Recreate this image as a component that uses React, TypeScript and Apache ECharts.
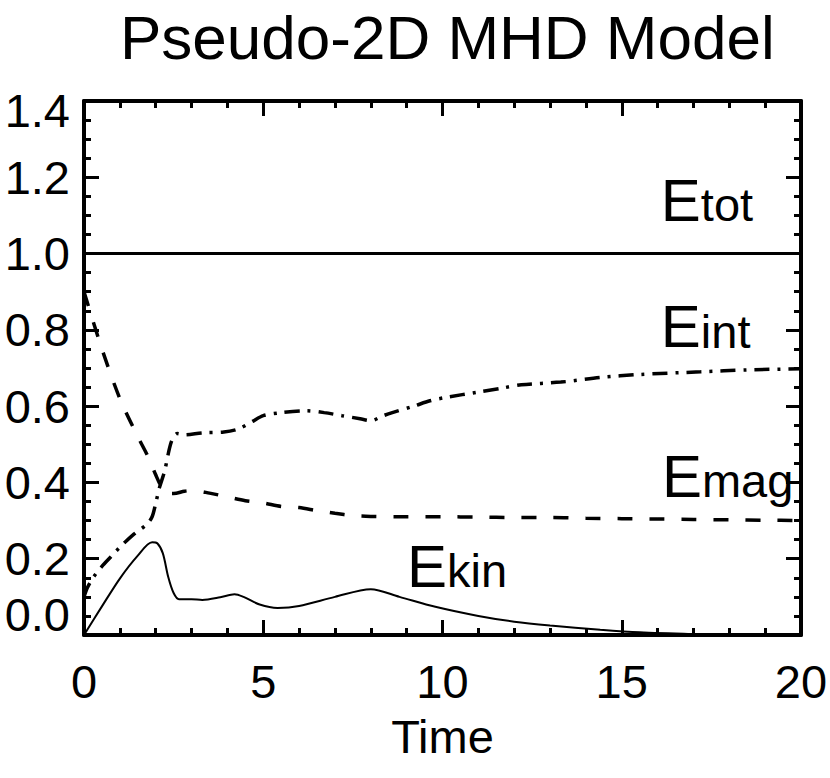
import React, { useEffect, useRef } from 'react';
import * as echarts from 'echarts';

const titleText = 'Pseudo-2D MHD Model';
const xName = 'Time';

// Total energy
const etotT = [0, 20];
const etotV = [1.0, 1.0];

// Internal energy (dash-dot)
const eintT = [0, 0.1, 0.25, 0.5, 0.75, 1.0, 1.4, 1.75, 1.9, 2.0, 2.1, 2.25, 2.35, 2.45, 2.6, 2.8, 3.3, 3.9, 4.3, 4.7, 5.0, 5.5, 6.2, 6.7, 7.2, 7.7, 8.0, 8.35, 8.6, 9.2, 9.65, 10.1, 11, 11.7, 12.2, 13.3, 14.4, 15.5, 17.2, 18.5, 20];
const eintV = [0.10, 0.125, 0.15, 0.18, 0.205, 0.23, 0.265, 0.29, 0.31, 0.345, 0.385, 0.43, 0.475, 0.51, 0.528, 0.525, 0.53, 0.532, 0.54, 0.56, 0.575, 0.583, 0.588, 0.583, 0.575, 0.567, 0.562, 0.575, 0.583, 0.60, 0.614, 0.623, 0.637, 0.648, 0.656, 0.663, 0.675, 0.683, 0.69, 0.695, 0.698];

// Magnetic energy (dashed)
const emagT = [0, 0.5, 1.0, 1.5, 1.8, 2.0, 2.15, 2.3, 2.5, 2.8, 3.0, 3.5, 4.0, 4.5, 5.0, 5.5, 6.0, 6.5, 7.0, 7.5, 8.0, 9, 10, 11, 12, 13, 14, 15, 16, 17, 18, 19, 20];
const emagV = [0.90, 0.75, 0.62, 0.52, 0.465, 0.42, 0.39, 0.372, 0.371, 0.377, 0.379, 0.372, 0.362, 0.352, 0.346, 0.337, 0.334, 0.326, 0.319, 0.313, 0.311, 0.31, 0.31, 0.309, 0.308, 0.308, 0.306, 0.305, 0.304, 0.303, 0.302, 0.301, 0.300];

// Kinetic energy (thin solid)
const ekinT = [0, 0.5, 1.0, 1.5, 1.9, 2.05, 2.2, 2.35, 2.5, 2.65, 3.0, 3.3, 3.8, 4.2, 4.45, 4.9, 5.4, 6.0, 7.0, 8.0, 8.8, 9.8, 11, 12, 13, 14.4, 15.5, 17, 18, 20];
const ekinV = [0, 0.075, 0.148, 0.208, 0.243, 0.24, 0.214, 0.152, 0.11, 0.094, 0.094, 0.092, 0.099, 0.107, 0.10, 0.08, 0.071, 0.076, 0.10, 0.12, 0.1, 0.074, 0.05, 0.035, 0.025, 0.014, 0.007, 0.002, 0, 0];

const zip = (t: number[], v: number[]) => t.map((x, i) => [x, v[i]]);

const FONT = "'Liberation Sans', Arial, Helvetica, sans-serif";

export default function App() {
  const ref = useRef<HTMLDivElement>(null);
  useEffect(() => {
    if (!ref.current) return;
    const chart = echarts.init(ref.current, null, { renderer: 'svg' });

    const axisCommon: any = {
      type: 'value',
      axisLine: { show: true, onZero: false, lineStyle: { color: '#000', width: 4 } },
      axisTick: { show: true, inside: true, length: 15, lineStyle: { color: '#000', width: 3 } },
      splitLine: { show: false },
      minorSplitLine: { show: false },
    };

    const yFormatter = (v: number) => {
      if (Math.abs(v) < 1e-9) return '{lo|0.0}';
      if (v > 1.39) return '{hi|' + v.toFixed(1) + '}';
      return v.toFixed(1);
    };

    const option: any = {
      animation: false,
      backgroundColor: '#fff',
      title: {
        text: titleText,
        left: 120,
        top: 6,
        padding: 0,
        textStyle: { fontSize: 62, lineHeight: 62, fontWeight: 'normal', color: '#000', fontFamily: FONT },
      },
      grid: { left: 84, right: 29, top: 101, bottom: 143, containLabel: false, outerBoundsMode: 'none' },
      xAxis: [
        {
          ...axisCommon,
          position: 'bottom',
          min: 0, max: 20, interval: 5,
          minorTick: { show: true, splitNumber: 5, length: 7, lineStyle: { color: '#000', width: 3 } },
          axisLabel: { fontSize: 47, margin: 23, color: '#000', fontFamily: FONT },
          name: xName,
          nameLocation: 'middle',
          nameGap: 78,
          nameTextStyle: { fontSize: 47, color: '#000', fontFamily: FONT },
        },
        {
          ...axisCommon,
          position: 'top',
          min: 0, max: 20, interval: 5,
          minorTick: { show: true, splitNumber: 5, length: 7, lineStyle: { color: '#000', width: 3 } },
          axisLabel: { show: false },
        },
      ],
      yAxis: [
        {
          ...axisCommon,
          position: 'left',
          min: 0, max: 1.4, interval: 0.2,
          minorTick: { show: true, splitNumber: 4, length: 7, lineStyle: { color: '#000', width: 3 } },
          axisLabel: {
            fontSize: 47, margin: 14, color: '#000', fontFamily: FONT,
            formatter: yFormatter,
            rich: {
              lo: { fontSize: 47, color: '#000', fontFamily: FONT, padding: [0, 0, 42, 0] },
              hi: { fontSize: 47, color: '#000', fontFamily: FONT, padding: [18, 0, 0, 0] },
            },
          },
        },
        {
          ...axisCommon,
          position: 'right',
          min: 0, max: 1.4, interval: 0.2,
          minorTick: { show: true, splitNumber: 4, length: 7, lineStyle: { color: '#000', width: 3 } },
          axisLabel: { show: false },
        },
      ],
      series: [
        {
          name: 'Etot', type: 'line', data: zip(etotT, etotV), symbol: 'none',
          lineStyle: { color: '#000', width: 3 },
        },
        {
          name: 'Eint', type: 'line', data: zip(eintT, eintV), symbol: 'none', smooth: 0.3,
          lineStyle: { color: '#000', width: 3.5, type: [15, 8, 3, 8], cap: 'butt' },
        },
        {
          name: 'Emag', type: 'line', data: zip(emagT, emagV), symbol: 'none', smooth: 0.3,
          lineStyle: { color: '#000', width: 3.5, type: [15, 17], cap: 'butt' },
        },
        {
          name: 'Ekin', type: 'line', data: zip(ekinT, ekinV), symbol: 'none', smooth: 0.3,
          lineStyle: { color: '#000', width: 2 },
        },
      ],
    };

    chart.setOption(option);

    // in-plot labels anchored at data coordinates (left edge, just below baseline)
    const annotations = [
      { sub: 'tot', at: [16.09, 1.061] },
      { sub: 'int', at: [16.09, 0.729] },
      { sub: 'mag', at: [16.12, 0.337] },
      { sub: 'kin', at: [9.01, 0.102] },
    ];
    const graphic = annotations.map((a) => {
      const p = chart.convertToPixel({ gridIndex: 0 }, a.at) as number[];
      return {
        type: 'text',
        x: p[0],
        y: p[1],
        z: 100,
        style: {
          text: '{e|E}{s|' + a.sub + '}',
          align: 'left',
          verticalAlign: 'bottom',
          fill: '#000',
          fontFamily: FONT,
          fontSize: 60,
          rich: {
            e: { fontSize: 60, fontFamily: FONT, fill: '#000', verticalAlign: 'bottom' },
            s: { fontSize: 47, fontFamily: FONT, fill: '#000', verticalAlign: 'bottom', padding: [0, 0, 2, 0] },
          },
        },
      };
    });
    chart.setOption({ graphic });

    return () => chart.dispose();
  }, []);

  return (
    <div
      ref={ref}
      style={{ position: 'fixed', left: 0, top: 0, width: 830, height: 778, background: '#fff' }}
    />
  );
}
